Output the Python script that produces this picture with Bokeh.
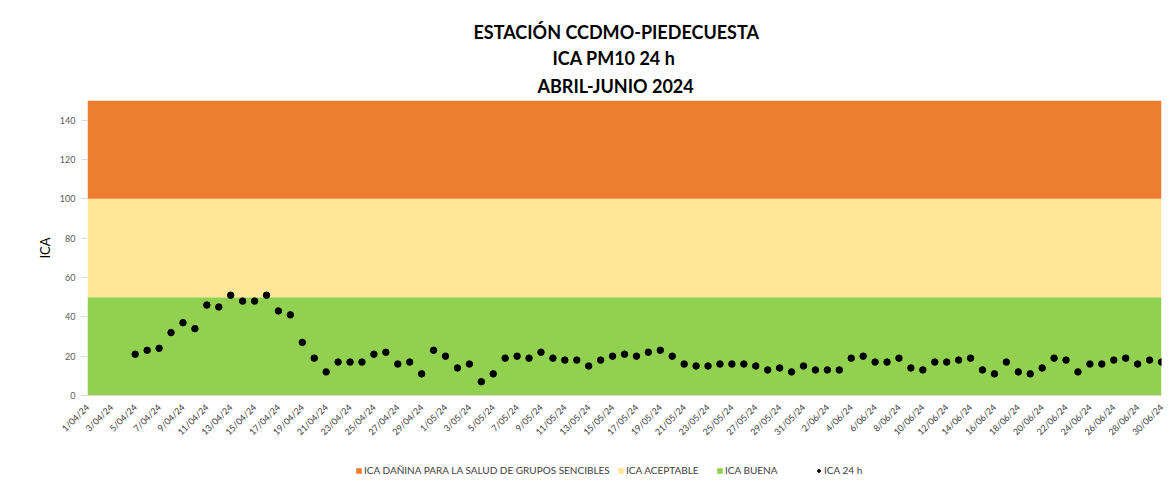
import datetime
from bokeh.plotting import figure
from bokeh.layouts import column
from bokeh.models import Legend, LegendItem, Title, FixedTicker, ColumnDataSource, Range1d
from bokeh.embed import file_html
from bokeh.resources import INLINE

# ---------------- data ----------------
start = datetime.date(2024, 4, 1)
dates = [start + datetime.timedelta(days=i) for i in range(91)]
categories = [f"{d.day}/{d.month:02d}/{d.year % 100}" for d in dates]

ica_24h = [
    None, None, None, None, 21, 23, 24, 32, 37, 34,
    46, 45, 51, 48, 48, 51, 43, 41, 27, 19,
    12, 17, 17, 17, 21, 22, 16, 17, 11, 23,
    20, 14, 16, 7, 11, 19, 20, 19, 22, 19,
    18, 18, 15, 18, 20, 21, 20, 22, 23, 20,
    16, 15, 15, 16, 16, 16, 15, 13, 14, 12,
    15, 13, 13, 13, 19, 20, 17, 17, 19, 14,
    13, 17, 17, 18, 19, 13, 11, 17, 12, 11,
    14, 19, 18, 12, 16, 16, 18, 19, 16, 18,
    17,
]

band_names = ["ICA BUENA", "ICA ACEPTABLE", "ICA DAÑINA PARA LA SALUD DE GRUPOS SENCIBLES"]
band_limits = [0, 50, 100, 150]
band_colors = ["#92D050", "#FFE699", "#ED7D31"]
series_name = "ICA 24 h"

y_ticks = [0, 20, 40, 60, 80, 100, 120, 140]
x_tick_step = 2

# ---------------- main figure ----------------
n = len(categories)
xs = list(range(n))

FONT = "Lato"
W = 1170
p = figure(width=W, height=453, output_backend="svg", toolbar_location=None,
           x_range=Range1d(0, n - 1), y_range=Range1d(0, 150),
           title="ESTACIÓN CCDMO-PIEDECUESTA",
           min_border_left=87, min_border_right=9, min_border_top=100, min_border_bottom=58)

title_offsets = {"ESTACIÓN CCDMO-PIEDECUESTA": 386, "ICA PM10 24 h": 465, "ABRIL-JUNIO 2024": 450}
p.title.text_font = FONT
p.title.text_font_size = "18px"
p.title.text_font_style = "bold"
p.title.align = "left"
p.title.text_color = "#000000"
p.title.standoff = 1
p.title.offset = title_offsets[p.title.text]
for txt, so in [("ABRIL-JUNIO 2024", 7), ("ICA PM10 24 h", 2)]:
    t = Title(text=txt, text_font=FONT, text_font_size="18px", text_font_style="bold",
              align="left", text_color="#000000", standoff=so, offset=title_offsets[txt])
    p.add_layout(t, "above")

for i, (name, col) in enumerate(zip(band_names, band_colors)):
    src = ColumnDataSource(dict(x=xs, lo=[band_limits[i]] * n, hi=[band_limits[i + 1]] * n))
    p.varea(x="x", y1="lo", y2="hi", source=src, fill_color=col, fill_alpha=1.0)

pts = ColumnDataSource(dict(x=[x for x, v in zip(xs, ica_24h) if v is not None],
                            y=[v for v in ica_24h if v is not None]))
p.scatter("x", "y", source=pts, size=6.5, fill_color="black", line_color="black")

p.xgrid.grid_line_color = None
p.ygrid.grid_line_color = None
p.outline_line_color = None
p.background_fill_color = "white"

p.yaxis.ticker = FixedTicker(ticks=y_ticks)
p.yaxis.axis_line_color = None
p.yaxis.major_tick_line_color = "#d9d9d9"
p.yaxis.major_tick_in = 0
p.yaxis.major_tick_out = 6
p.yaxis.minor_tick_line_color = None
p.yaxis.major_label_standoff = 6
p.yaxis.major_label_text_font = FONT
p.yaxis.major_label_text_font_size = "9px"
p.yaxis.major_label_text_color = "#595959"
p.yaxis.axis_label = "ICA"
p.yaxis.axis_label_text_font = FONT
p.yaxis.axis_label_text_font_size = "13px"
p.yaxis.axis_label_text_font_style = "normal"
p.yaxis.axis_label_text_color = "#000000"
p.yaxis.axis_label_standoff = 4

p.xaxis.ticker = FixedTicker(ticks=xs[::x_tick_step])
p.xaxis.major_label_overrides = {i: categories[i] for i in xs}
p.xaxis.major_label_orientation = 0.785
p.xaxis.axis_line_color = "#d9d9d9"
p.xaxis.major_tick_line_color = None
p.xaxis.minor_tick_line_color = None
p.xaxis.major_label_text_font = FONT
p.xaxis.major_label_text_font_size = "9px"
p.xaxis.major_label_text_color = "#404040"
p.xaxis.major_label_standoff = 4

# ---------------- legend strip ----------------
lg = figure(width=W, height=30, output_backend="svg", toolbar_location=None,
            x_range=Range1d(0, 1), y_range=Range1d(0, 1),
            x_axis_type=None, y_axis_type=None,
            min_border_left=0, min_border_right=0, min_border_top=0, min_border_bottom=0)
lg.outline_line_color = None
lg.xgrid.grid_line_color = None
lg.ygrid.grid_line_color = None

hidden = dict(x=[5, 6], lo=[5, 5], hi=[6, 6])   # outside the strip's ranges
band_r = []
for col in band_colors:
    band_r.append(lg.varea(x="x", y1="lo", y2="hi", source=ColumnDataSource(dict(hidden)),
                           fill_color=col, fill_alpha=1.0))
dot_r = lg.scatter(x=[5], y=[5], size=5, fill_color="black", line_color="black")

entries = [(band_names[2], band_r[2], 268), (band_names[1], band_r[1], 530),
           (band_names[0], band_r[0], 629), (series_name, dot_r, 728)]
for label, rend, xpos in entries:
    leg = Legend(items=[LegendItem(label=label, renderers=[rend])],
                 orientation="horizontal", location=(xpos, 7))
    leg.label_text_font = FONT
    leg.label_text_font_size = "10px"
    leg.label_text_color = "#404040"
    leg.glyph_width = 7
    leg.glyph_height = 7
    leg.label_standoff = 2
    leg.border_line_color = None
    leg.background_fill_alpha = 0
    leg.padding = 0
    leg.margin = 0
    lg.add_layout(leg, "center")

layout = column(p, lg, spacing=0)
open("out.html", "w").write(file_html(layout, INLINE))
